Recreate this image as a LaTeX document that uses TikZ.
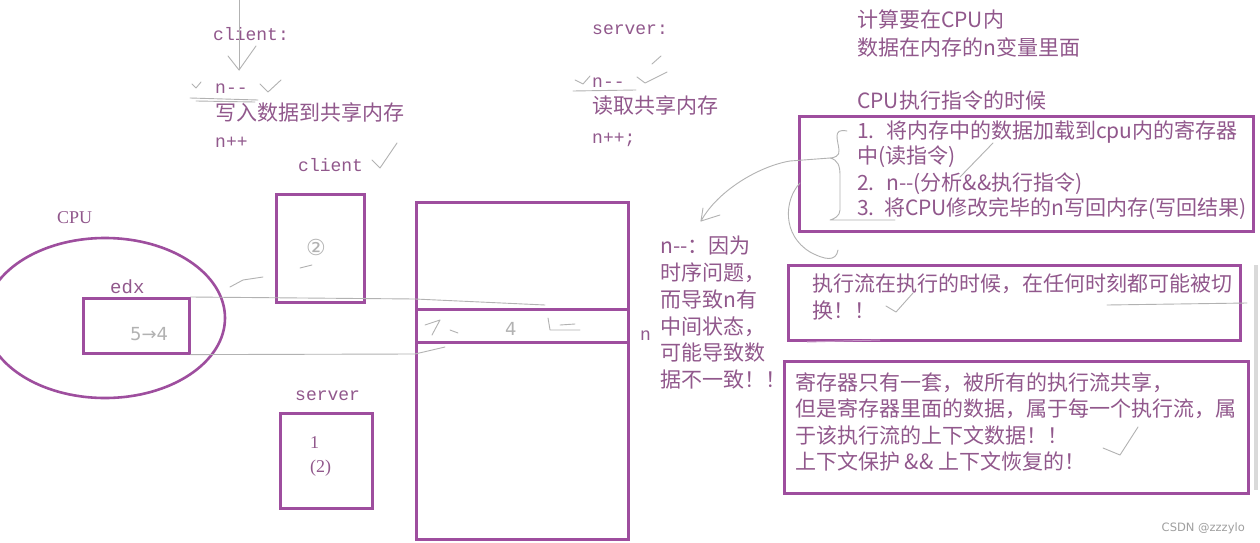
\documentclass[tikz,border=0pt]{standalone}
\usepackage{fontspec}
\setmainfont{Liberation Serif}
\setmonofont{Liberation Mono}
\newfontfamily\cjk{Noto Sans CJK SC}
\newfontfamily\dv{DejaVu Sans}
\definecolor{txtp}{RGB}{145,88,140}
\definecolor{boxp}{RGB}{158,78,158}
\definecolor{handg}{RGB}{178,178,178}
\tikzset{
  boxc/.style={draw=boxp, line width=2.6pt, inner sep=0pt, anchor=north west},
  tb/.style={anchor=base west, inner sep=0pt, text=txtp},
  cn/.style={tb, font=\cjk\fontsize{21}{25}\selectfont},
  mn/.style={tb, font=\ttfamily\fontsize{18}{22}\selectfont},
  sr/.style={tb, font=\fontsize{18}{22}\selectfont},
  hand/.style={draw=handg, line width=0.9pt, line cap=round, line join=round},
  handt/.style={anchor=base west, inner sep=0pt, text=handg, font=\dv\fontsize{18}{22}\selectfont},
}
\begin{document}
\begin{tikzpicture}[x=1pt,y=-1pt]
\useasboundingbox[fill=white] (0,0) rectangle (1260,543);

% ---- client column
\node[mn] (cl1) at (213,41) {client:};
\node[mn] (cl2) at (215,93) {n--};
\node[cn] (cl3) at (215,120) {写入数据到共享内存};
\node[mn] (cl4) at (215,147) {n++};
\node[mn] (cl5) at (298,171) {client};

% ---- server column
\node[mn] (sv1) at (592,35) {server:};
\node[mn] (sv2) at (592,87) {n--};
\node[cn] (sv3) at (592,113) {读取共享内存};
\node[mn] (sv4) at (592,143) {n++;};

% ---- right notes
\node[cn] (r1) at (857,28) {计算要在CPU内};
\node[cn] (r2) at (857,56) {数据在内存的n变量里面};
\node[cn] (r3) at (857,108) {CPU执行指令的时候};

\node[boxc, line width=3pt, minimum width=454, minimum height=115] (box1) at (798,115) {};
\node[cn] (b1a) at (857,138) {1.\hspace{0.55em}将内存中的数据加载到cpu内的寄存器};
\node[cn] (b1b) at (857,163) {中(读指令)};
\node[cn] (b1c) at (857,190) {2.\hspace{0.55em}n--(分析\&\&执行指令)};
\node[cn] (b1d) at (857,215) {3.\hspace{0.45em}将CPU修改完毕的n写回内存(写回结果)};

\node[boxc, minimum width=452, minimum height=75] (box2) at (787,264) {};
\node[cn] (b2a) at (812,291) {执行流在执行的时候，在任何时刻都可能被切};
\node[cn] (b2b) at (812,318) {换！！};

\node[boxc, minimum width=464, minimum height=132] (box3) at (783,360) {};
\node[cn] (b3a) at (795,390) {寄存器只有一套，被所有的执行流共享，};
\node[cn] (b3b) at (795,416) {但是寄存器里面的数据，属于每一个执行流，属};
\node[cn] (b3c) at (795,443) {于该执行流的上下文数据！！};
\node[cn] (b3d) at (795,469) {上下文保护 \&\& 上下文恢复的！};

% ---- middle note
\node[cn] (m1) at (660,253) {n--：因为};
\node[cn] (m2) at (660,280) {时序问题，};
\node[cn] (m3) at (660,307) {而导致n有};
\node[cn] (m4) at (660,334) {中间状态，};
\node[cn] (m5) at (660,360) {可能导致数};
\node[cn] (m6) at (660,387) {据不一致！！};

% ---- memory
\node[boxc, minimum width=212, minimum height=107] (memtop) at (415,201) {};
\node[boxc, minimum width=212, minimum height=33] (memn) at (415,308) {};
\node[boxc, minimum width=212, minimum height=197] (membot) at (415,341) {};
\node[mn] (nlab) at (640,340) {n};

% ---- client / server boxes
\node[boxc, minimum width=88, minimum height=108] (cbox) at (275,193) {};
\node[mn] (svl) at (295,400) {server};
\node[boxc, minimum width=92, minimum height=95] (sbox) at (279,412) {};
\node[sr] (s1) at (310,448) {1};
\node[sr] (s2) at (310,472) {(2)};

% ---- CPU
\node[sr] (cpul) at (57,223) {CPU};
\draw[draw=boxp, line width=2.6pt] (105,318) ellipse [x radius=120, y radius=80];
\node[boxc, minimum width=106, minimum height=55] (edxbox) at (82,297) {};
\node[tb, font=\ttfamily\fontsize{19}{22}\selectfont] (edxl) at (110,293) {edx};

% ---- handwritten marks
\node[handt] (h54) at (130,340) {5→4};
\node[handt, font=\dv\fontsize{22}{24}\selectfont] (h2) at (306,255) {②};
\node[handt] (h4) at (505,335) {4};
\draw[hand] (300,268) -- (312,265);
\draw[hand] (239,0) -- (239,70);
\draw[hand] (228,56) -- (239,70) -- (256,46);
\draw[hand] (192,84) -- (196,88) -- (201,82);
\draw[hand] (260,84) -- (268,92) -- (281,80);
\draw[hand] (190,98) -- (258,100);
\draw[hand] (196,101) -- (255,102);
\draw[hand] (372,160) -- (380,168) -- (397,143);
\draw[hand] (575,80) -- (583,84) -- (590,76);
\draw[hand] (573,91) -- (636,90);
\draw[hand] (637,77) -- (645,83) -- (667,72);
\draw[hand] (652,64) -- (661,56);
% brace and arrows near box1
\draw[hand] (847,131) .. controls (832,128) and (838,140) .. (839,150) .. controls (840,156) and (834,158) .. (830,158) .. controls (838,160) and (840,166) .. (840,175) -- (840,210) .. controls (840,216) and (834,219) .. (830,220) -- (895,220);
\draw[hand] (830,158) -- (790,161) .. controls (760,166) and (718,190) .. (701,221);
\draw[hand] (720,215) -- (701,221) -- (703,208);
\draw[hand] (800,183) .. controls (784,200) and (782,235) .. (810,252) .. controls (825,260) and (836,262) .. (838,250);
\draw[hand] (960,177) -- (993,143);
\draw[hand] (886,306) -- (896,312) -- (913,293);
\draw[hand] (1107,305) -- (1247,303);
\draw[draw=boxp!60, line width=1pt] (807,342) -- (880,340);
\draw[hand] (1103,448) -- (1120,455) -- (1138,427);
% edx to memory
\draw[hand] (edxbox.north east) -- (memn.north west |- 0,299) -- (545,305);
\draw[hand] (edxbox.south east) -- (memn.south west |- 0,354) -- (445,347);
\draw[hand] (230,287) -- (243,280) -- (263,277);
\draw[hand] (425,325) -- (440,320) -- (432,335);
\draw[hand] (450,330) -- (458,333);
\draw[hand] (560,325) -- (575,324);
\draw[hand] (548,318) -- (550,330) -- (580,330);
% right edge bar
\draw[draw=handg!50, line width=4pt] (1256,265) -- (1256,490);
\node[anchor=base east, inner sep=0pt, text=handg!90!black, font=\dv\fontsize{11.5}{13}\selectfont] (wm) at (1245,531) {CSDN @zzzylo};
\end{tikzpicture}
\end{document}
